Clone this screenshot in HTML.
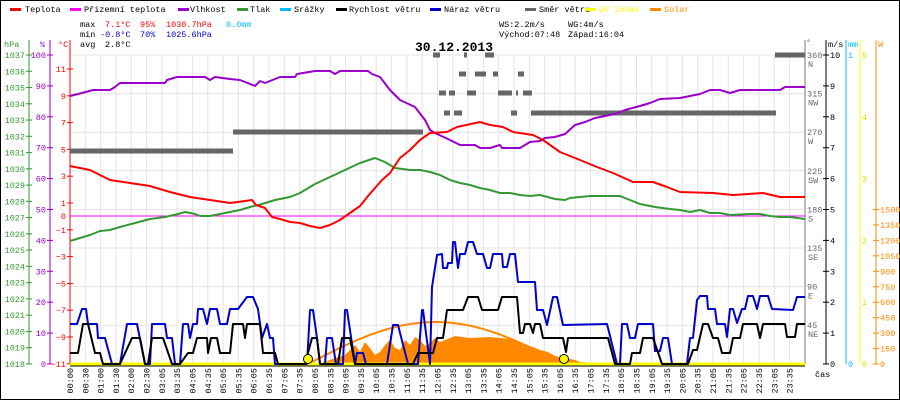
<!DOCTYPE html>
<html><head><meta charset="utf-8"><style>
html,body{margin:0;padding:0;background:#fff}
svg{display:block;font-family:"Liberation Mono",monospace}
</style></head><body>
<svg id="s" width="900" height="400" xmlns="http://www.w3.org/2000/svg"></svg>
<script>
const s=document.getElementById('s');let h='';
h+='<rect x="0.5" y="0.5" width="899" height="399" fill="#fff" stroke="#000"/>';
// grid
for(let k=0;k<48;k++){const x=70+k*15.31;h+=`<line x1="${x}" y1="55" x2="${x}" y2="364" stroke="#e4e4e4"/>`;}
for(let k=0;k<9;k++){const y=55+k*38.6;h+=`<line x1="70" y1="${y}" x2="805" y2="${y}" stroke="#e4e4e4"/>`;}
// legend
const leg=[[10,25,'#f00','Teplota'],[70,84,'#f0f','Přízemní teplota'],[178,190,'#90c','Vlhkost'],[237,250,'#393','Tlak'],[280,294,'#0bf','Srážky'],[336,349,'#000','Rychlost větru'],[430,444,'#00c','Náraz větru'],[525,539,'#666','Směr větru'],[585,599,'#ff0','UV index'],[650,664,'#f80','Solar']];
leg.forEach(l=>{h+=`<rect x="${l[0]}" y="8" width="11" height="3" fill="${l[2]}"/><text x="${l[1]}" y="12" font-size="8.5" fill="${l[0]>=585?l[2]:'#000'}">${l[3]}</text>`;});
const T=(x,y,t,c,fs,a)=>{h+=`<text x="${x}" y="${y}" font-size="${fs||8.5}" fill="${c||'#000'}" ${a?'text-anchor="'+a+'"':''}>${t}</text>`;};
T(80,27,'max');T(105,27,'7.1°C','#f00');T(140,27,'95%','#f00');T(166,27,'1030.7hPa','#f00');T(226,27,'0.0mm','#0bf');
T(80,37,'min');T(100,37,'-0.8°C','#00c');T(140,37,'70%','#00c');T(166,37,'1025.6hPa','#00c');
T(80,47,'avg');T(105,47,'2.8°C');
T(499,27,'WS:2.2m/s');T(568,27,'WG:4m/s');T(499,37,'Východ:07:48');T(568,37,'Západ:16:04');
h+='<text x="415" y="51" font-size="13" font-weight="bold" fill="#000">30.12.2013</text>';
// left axes
h+='<line x1="29" y1="40" x2="29" y2="364" stroke="#393"/><line x1="50" y1="40" x2="50" y2="364" stroke="#90c"/><line x1="70" y1="40" x2="70" y2="364" stroke="#f00"/>';
T(4,47,'hPa','#393');T(40,47,'%','#90c');T(58,47,'°C','#f00');
for(let k=0;k<=19;k++){const y=55+k*16.26;h+=`<line x1="26" y1="${y}" x2="32" y2="${y}" stroke="#393"/>`;T(25,y+3,1037-k,'#393',8.5,'end');}
for(let k=0;k<=10;k++){const y=55+k*30.9;h+=`<line x1="47" y1="${y}" x2="53" y2="${y}" stroke="#90c"/>`;T(46,y+3,100-k*10,'#90c',8.5,'end');}
for(let k=0;k<12;k++){const y=69+k*26.8,v=11-2*k;h+=`<line x1="67" y1="${y}" x2="73" y2="${y}" stroke="#f00"/>`;T(66,y+3,v<0?'−'+(-v):v,'#f00',8.5,'end');}
T(66,219,'0','#f00',8.5,'end');
// right axes
h+='<line x1="805" y1="40" x2="805" y2="364" stroke="#777"/><line x1="826" y1="40" x2="826" y2="364" stroke="#000"/><line x1="846" y1="40" x2="846" y2="364" stroke="#0bf"/><line x1="860" y1="40" x2="860" y2="364" stroke="#ff0"/><line x1="876" y1="40" x2="876" y2="364" stroke="#f80"/>';
T(806,45,'°','#666');T(828,47,'m/s');T(848,47,'mm','#0bf');T(878,47,'W','#f80');
const dir=['N','NW','W','SW','S','SE','E','NE'];
for(let k=0;k<8;k++){const y=55+k*38.6;T(807,y+3,360-45*k,'#666');T(808,y+12,dir[k],'#666');}
for(let k=0;k<=10;k++){const y=364-k*30.9;h+=`<line x1="823" y1="${y}" x2="829" y2="${y}" stroke="#000"/>`;T(830,y+3,k);}
T(848,58,'1','#0bf');T(848,367,'0','#0bf');
for(let k=0;k<=5;k++){const y=364-k*61.8;T(862,y+3,k,'#dd0');}
for(let k=0;k<=10;k++){const y=364-k*15.45;h+=`<line x1="873" y1="${y}" x2="879" y2="${y}" stroke="#f80"/>`;T(880,y+3,k*150,'#f80');}
T(815,377,'čas');
// x labels
for(let k=0;k<48;k++){let m=k*30;if(k>=6)m+=5;const t=String(Math.floor(m/60)).padStart(2,'0')+':'+String(m%60).padStart(2,'0');const x=70+k*15.31+3;h+=`<text transform="translate(${x},368) rotate(-90)" font-size="8.5" text-anchor="end">${t}</text>`;}
// solar area
const sol=[312,364,325,362,335,358,345,355,350,350,355,345,360,352,365,342,370,348,375,355,380,352,385,345,390,340,395,348,400,350,405,340,410,345,415,337,420,340,425,346,430,343,435,338,440,342,450,338,455,336,470,338,490,337,510,339,520,342,530,346,540,350,548,352,555,356,565,358,575,360,580,362,600,363,605,364];
h+=`<polygon points="${sol.join(' ')}" fill="#f80"/>`;
let arc=[];for(let x=308;x<=563;x+=3)arc.push(x+','+(364-42*Math.sin(Math.PI*(x-308)/255)).toFixed(1));
h+=`<polyline points="${arc.join(' ')}" fill="none" stroke="#f80" stroke-width="2"/>`;
h+='<line x1="70" y1="216" x2="805" y2="216" stroke="#f0f"/>';
// direction bars
const bars=[[70,233,151],[233,423,132],[433,440,55],[464,467,55],[485,494,55],[459,466,74],[475,486,74],[493,498,74],[518,524,74],[439,446,93],[449,455,93],[467,476,93],[498,512,93],[516,518,93],[523,532,93],[444,450,113],[454,462,113],[511,517,113],[531,776,113],[775,805,55]];
bars.forEach(b=>{h+=`<rect x="${b[0]}" y="${b[2]-2.5}" width="${b[1]-b[0]}" height="5" fill="#666"/>`;});
const P=(a,c,w)=>{h+=`<polyline points="${a.join(' ')}" fill="none" stroke="${c}" stroke-width="${w||2}" stroke-linejoin="round"/>`;};
P([70,241,80,238,90,235,100,231,110,230,120,227,135,223,150,219,165,217,178,214,185,212,195,214,200,216,210,216,225,213,240,210,250,207,262,204,275,200,290,197,300,193,315,184,330,177,345,170,360,163,375,158,385,162,395,168,410,170,420,170,430,172,440,175,450,180,460,183,470,185,480,188,490,190,500,193,510,193,520,195,530,196,540,195,555,199,565,200,570,198,590,196,620,196,630,200,640,204,655,207,670,209,680,210,690,212,700,210,710,213,720,213,730,215,750,214,760,214,770,216,780,217,790,217,805,219],'#393');
P([70,96,82,93,93,90,110,90,115,87,120,83,165,83,167,80,177,77,205,77,210,80,215,77,230,79,240,80,255,86,260,81,265,83,280,77,295,77,297,74,315,71,330,71,335,74,340,71,368,71,372,74,380,77,390,90,400,100,415,107,425,120,430,130,435,133,450,140,460,145,475,145,480,148,490,148,500,145,502,148,520,148,530,142,540,141,545,138,555,137,565,134,575,125,585,122,595,118,605,116,615,114,625,110,640,106,650,103,660,99,680,98,690,96,700,94,710,90,720,90,730,93,740,90,780,90,785,87,805,87],'#90c');
P([70,166,90,170,110,180,130,183,150,186,170,192,190,197,210,200,230,203,245,201,252,200,256,205,265,208,272,217,280,219,290,222,300,223,310,226,320,228,330,225,340,220,350,213,360,206,368,196,375,188,382,180,390,173,400,158,410,150,420,140,430,133,447,132,457,127,480,122,490,125,503,127,513,132,533,135,543,140,560,152,580,160,597,167,613,173,633,182,653,182,667,187,680,192,713,193,733,195,763,193,780,197,805,197],'#f00');
// UV baseline
h+='<line x1="70" y1="364" x2="805" y2="364" stroke="#ff0" stroke-width="3"/><line x1="70" y1="366" x2="805" y2="366" stroke="#000"/>';
P([70,324,77,324,82,309,86,309,88,324,97,324,98,338,105,338,112,364,120,364,127,324,137,324,145,364,150,364,152,324,165,324,167,338,172,338,175,364,180,364,183,324,188,324,190,338,193,324,197,324,198,309,203,309,207,324,210,309,217,309,220,324,227,324,230,309,238,309,247,297,253,297,258,309,262,338,267,324,270,338,273,338,275,364,307,364,310,310,313,310,317,338,320,364,325,364,327,338,332,338,336,364,343,364,345,310,347,310,355,364,357,353,363,353,366,364,387,364,393,325,398,325,408,364,418,364,422,310,423,310,430,364,432,287,437,255,442,254,443,268,447,268,448,263,452,263,453,242,455,242,458,268,460,254,465,254,468,242,473,242,477,254,483,254,487,268,490,268,493,254,502,254,503,267,507,267,510,254,515,254,518,282,535,282,537,310,543,310,547,325,553,297,557,297,563,325,607,324,617,364,620,364,622,324,627,324,630,338,635,338,638,324,653,324,655,351,660,351,663,338,668,338,672,364,687,364,690,338,693,338,697,300,700,296,707,296,708,309,715,309,717,324,725,324,727,337,730,309,733,309,737,323,742,309,745,309,748,296,753,296,757,309,760,296,768,296,772,309,793,310,797,297,805,297],'#00c');
P([70,353,78,353,83,324,88,324,95,353,100,353,103,364,120,364,132,338,140,338,145,364,148,364,152,338,163,338,172,364,180,364,188,353,193,353,197,338,207,338,208,353,211,338,217,338,220,353,230,353,233,324,243,324,245,338,247,324,260,324,263,353,275,353,278,364,305,364,312,338,317,338,320,364,338,364,342,338,350,338,355,364,413,364,418,353,433,353,437,338,443,338,447,310,463,310,468,297,478,297,482,310,498,310,502,297,517,297,520,333,523,333,525,324,530,324,533,333,535,324,540,324,543,338,563,338,566,352,568,338,608,338,615,364,630,364,632,353,640,353,643,338,653,338,662,364,688,364,693,350,697,350,703,324,708,324,713,338,718,338,722,353,730,353,733,338,740,338,743,324,757,324,760,338,763,324,785,324,787,337,795,337,797,324,805,324],'#000');
h+='<circle cx="308" cy="359" r="4.5" fill="#ff0" stroke="#000"/><circle cx="564" cy="359" r="4.5" fill="#ff0" stroke="#000"/>';
s.innerHTML=h;
</script>
</body></html>
